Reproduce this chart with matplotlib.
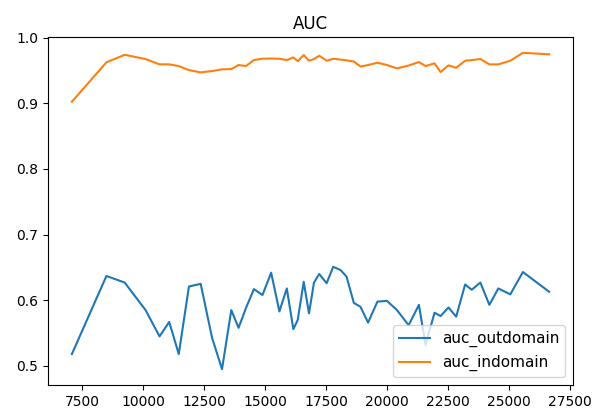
import matplotlib
matplotlib.use("Agg")
import matplotlib.pyplot as plt

steps = [7065, 8482, 9230, 10087, 10659, 11056, 11448, 11864, 12346, 12812,
         13221, 13601, 13899, 14201, 14528, 14879, 15235, 15574, 15876, 16145,
         16325, 16570, 16787, 16991, 17208, 17510, 17780, 18082, 18327, 18625,
         18899, 19209, 19593, 19985, 20394, 20872, 21293, 21566, 21934, 22179,
         22506, 22820, 23188, 23458, 23813, 24181, 24548, 25039, 25557, 26632]

auc_outdomain = [0.518, 0.637, 0.627, 0.585, 0.545, 0.567, 0.518, 0.621, 0.625, 0.543,
                 0.495, 0.585, 0.558, 0.588, 0.617, 0.608, 0.642, 0.583, 0.618, 0.556,
                 0.570, 0.628, 0.580, 0.627, 0.640, 0.626, 0.651, 0.646, 0.636, 0.596,
                 0.590, 0.566, 0.598, 0.599, 0.585, 0.562, 0.593, 0.532, 0.581, 0.576,
                 0.589, 0.575, 0.624, 0.616, 0.627, 0.593, 0.618, 0.609, 0.643, 0.613]

auc_indomain = [0.9025, 0.9625, 0.974, 0.9675, 0.9594, 0.9594, 0.9568, 0.9507, 0.9472, 0.9492,
                0.9518, 0.9523, 0.9584, 0.9568, 0.966, 0.968, 0.9683, 0.968, 0.966, 0.970,
                0.9644, 0.9736, 0.9649, 0.9675, 0.9725, 0.9649, 0.968, 0.9667, 0.9655, 0.9637,
                0.9561, 0.9584, 0.9619, 0.9584, 0.9533, 0.9576, 0.9629, 0.9568, 0.961, 0.9477,
                0.9579, 0.9542, 0.9649, 0.966, 0.9675, 0.9594, 0.9594, 0.9649, 0.977, 0.9747]

fig = plt.figure(figsize=(5.95, 4.12), dpi=100)
ax = fig.add_axes([48/595, 1-385/412, (573-48)/595, (385-37)/412])
ax.plot(steps, auc_outdomain, label="auc_outdomain")
ax.plot(steps, auc_indomain, label="auc_indomain")
ax.set_title("AUC")
ax.legend(loc="lower right", fontsize=11)
fig.savefig("out.png", dpi=100)
